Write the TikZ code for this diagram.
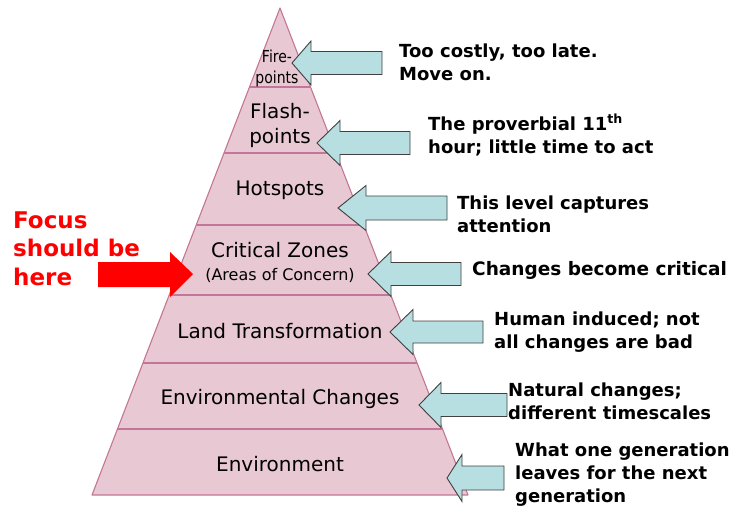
\documentclass[tikz,border=0pt]{standalone}
\usepackage{fontspec}
\setmainfont{DejaVu Sans}
\usetikzlibrary{calc}

\definecolor{pyrfill}{RGB}{232,200,211}
\definecolor{pyrline}{RGB}{196,118,150}
\definecolor{calloutblue}{RGB}{183,222,224}
\definecolor{focusred}{RGB}{255,0,0}

\begin{document}
\begin{tikzpicture}[x=1pt, y=-1pt,
    tier/.style={font=\fontsize{20}{25}\selectfont, inner sep=0pt, anchor=base, align=center},
    note/.style={font=\fontsize{18}{23}\selectfont\bfseries, inner sep=0pt, anchor=base west, align=left},
    callout/.style={fill=calloutblue, draw=black!75, line width=0.9pt},
    layer/.style={draw=pyrline, line width=1.1pt}]
    \useasboundingbox (0,0) rectangle (744,514);

    % Pyramid
    \coordinate (apex) at (280,8);
    \coordinate (bl) at (92,495);
    \coordinate (br) at (468,495);
    \fill[pyrfill] (apex) -- (bl) -- (br) -- cycle;

    % Tier borders
    \foreach \y in {87,153,225,295,363,429} {
        \pgfmathsetmacro{\tpos}{(\y-8)/487}
        \draw[layer] ($(apex)!\tpos!(bl)$) -- ($(apex)!\tpos!(br)$);
    }
    \draw[layer, line join=round] (apex) -- (bl) -- (br) -- cycle;

    % Tier labels (base = last line)
    \node[tier, font=\fontsize{16.5}{21}\selectfont] (fire) at (277,83) {\scalebox{0.85}[1]{Fire-}\\\scalebox{0.85}[1]{points}};
    \node[tier] (flash) at (280,143) {Flash-\\points};
    \node[tier] (hot) at (280,195) {Hotspots};
    \node[tier] (crit) at (280,257) {Critical Zones};
    \node[tier, font=\fontsize{16}{20}\selectfont] (areas) at (280,280) {(Areas of Concern)};
    \node[tier] (land) at (280,338) {Land Transformation};
    \node[tier] (envchg) at (280,404) {Environmental Changes};
    \node[tier] (env) at (280,471) {Environment};

    % Callout arrows: tip x / tip y / back of head / head half / body half / end x
    \foreach \tx/\ty/\bx/\hh/\bh/\rx in {292/63/311/22/11.5/382, 317/143/340/22.5/11.5/410,
        338/208/366/22.5/12/447, 368/274/391/22.5/11.5/461, 390/332/413/22.5/11/483,
        419/405/441/22.5/11.5/507, 447/478/462/23.5/12/504} {
        \draw[callout] (\tx,\ty) -- (\bx,{\ty-\hh}) -- (\bx,{\ty-\bh}) -- (\rx,{\ty-\bh})
            -- (\rx,{\ty+\bh}) -- (\bx,{\ty+\bh}) -- (\bx,{\ty+\hh}) -- cycle;
    }

    % Notes (base = last line)
    \node[note] (n1) at (399,80) {Too costly, too late.\\Move on.};
    \node[note] (n2) at (428,153) {The proverbial 11\textsuperscript{th}\\hour; little time to act};
    \node[note] (n3) at (457,232) {This level captures\\attention};
    \node[note, font=\fontsize{18.5}{23}\selectfont\bfseries] (n4) at (472,275) {Changes become critical};
    \node[note] (n5) at (494,348) {Human induced; not\\all changes are bad};
    \node[note] (n6) at (508,419) {Natural changes;\\different timescales};
    \node[note] (n7) at (515,502) {What one generation\\leaves for the next\\generation};

    % Focus
    \node[note, font=\fontsize{23}{28.5}\selectfont\bfseries, text=focusred] (focus) at (13,285) {Focus\\should be\\here};
    \fill[focusred] (98,262) -- (170,262) -- (170,252) -- (193,274) -- (170,297) -- (170,287) -- (98,287) -- cycle;
\end{tikzpicture}
\end{document}
